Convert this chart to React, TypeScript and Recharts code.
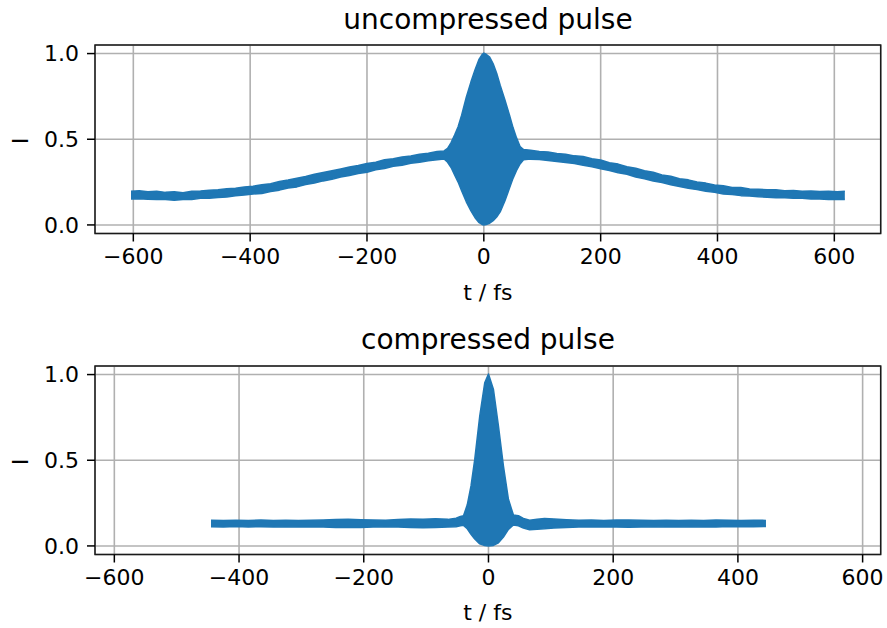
import {
  Area,
  CartesianGrid,
  ComposedChart,
  ReferenceArea,
  XAxis,
  YAxis,
} from 'recharts'

// uncompressed pulse: delay (fs) with upper / lower envelope of the fringes
const T1 = [
  -604, -590, -575, -560, -545, -530, -515, -500, -485, -470, -455, -440, -425, -410, -395, -380,
  -365, -350, -335, -320, -305, -290, -275, -260, -245, -230, -215, -200, -185, -170, -155, -140,
  -125, -110, -95, -80, -68, -62, -56, -50, -44, -38, -30, -22, -15, -8, -3, 0, 4, 10, 16, 22, 28,
  36, 44, 50, 56, 62, 68, 80, 95, 110, 125, 140, 155, 170, 185, 200, 215, 230, 245, 260, 275, 290,
  305, 320, 335, 350, 365, 380, 395, 410, 425, 440, 455, 470, 485, 500, 515, 530, 545, 560, 575,
  590, 605, 618,
]
const HI1 = [
  0.197, 0.2, 0.193, 0.196, 0.19, 0.193, 0.188, 0.196, 0.198, 0.203, 0.205, 0.211, 0.214, 0.222,
  0.226, 0.234, 0.241, 0.254, 0.262, 0.273, 0.283, 0.296, 0.306, 0.316, 0.327, 0.338, 0.347, 0.359,
  0.366, 0.38, 0.386, 0.396, 0.402, 0.413, 0.418, 0.428, 0.432, 0.447, 0.48, 0.525, 0.573, 0.64,
  0.745, 0.835, 0.905, 0.968, 0.994, 1.003, 0.996, 0.98, 0.94, 0.885, 0.815, 0.73, 0.64, 0.568,
  0.508, 0.458, 0.44, 0.436, 0.428, 0.425, 0.417, 0.413, 0.403, 0.399, 0.386, 0.379, 0.363, 0.355,
  0.34, 0.331, 0.316, 0.307, 0.292, 0.284, 0.27, 0.263, 0.25, 0.244, 0.233, 0.229, 0.219, 0.218,
  0.21, 0.208, 0.205, 0.205, 0.2, 0.201, 0.197, 0.198, 0.195, 0.196, 0.193, 0.196,
]
const LO1 = [
  0.152, 0.153, 0.15, 0.149, 0.149, 0.144, 0.148, 0.148, 0.155, 0.156, 0.16, 0.163, 0.17, 0.174,
  0.18, 0.184, 0.195, 0.203, 0.216, 0.222, 0.236, 0.245, 0.257, 0.266, 0.28, 0.288, 0.3, 0.308,
  0.322, 0.329, 0.342, 0.348, 0.36, 0.366, 0.374, 0.38, 0.385, 0.366, 0.335, 0.292, 0.25, 0.2,
  0.135, 0.082, 0.042, 0.013, 0.003, 0, 0.002, 0.01, 0.025, 0.046, 0.076, 0.14, 0.215, 0.272,
  0.318, 0.356, 0.38, 0.384, 0.382, 0.376, 0.37, 0.364, 0.358, 0.348, 0.34, 0.328, 0.318, 0.304,
  0.296, 0.28, 0.27, 0.256, 0.247, 0.235, 0.224, 0.214, 0.206, 0.196, 0.19, 0.181, 0.177, 0.171,
  0.169, 0.164, 0.162, 0.159, 0.158, 0.155, 0.155, 0.152, 0.152, 0.149, 0.15, 0.149,
]

// compressed pulse
const T2 = [
  -445, -425, -405, -385, -365, -345, -325, -305, -285, -265, -245, -225, -205, -185, -165, -145,
  -125, -105, -85, -65, -52, -45, -40, -34, -28, -22, -14, -6, 0, 8, 16, 24, 32, 40, 48, 56, 66,
  78, 90, 105, 125, 145, 165, 185, 205, 225, 245, 265, 285, 305, 325, 345, 365, 385, 405, 425, 445,
]
const HI2 = [
  0.15, 0.148, 0.15, 0.149, 0.151, 0.148, 0.15, 0.149, 0.15, 0.152, 0.154, 0.155, 0.153, 0.151,
  0.15, 0.154, 0.157, 0.156, 0.158, 0.155, 0.162, 0.172, 0.176, 0.24, 0.35, 0.505, 0.757, 0.952,
  1.003, 0.913, 0.7, 0.466, 0.272, 0.18, 0.176, 0.16, 0.15, 0.155, 0.16, 0.157, 0.153, 0.15, 0.152,
  0.149, 0.151, 0.152, 0.15, 0.149, 0.15, 0.148, 0.15, 0.149, 0.151, 0.15, 0.149, 0.15, 0.149,
]
const LO2 = [
  0.112, 0.11, 0.113, 0.111, 0.112, 0.11, 0.112, 0.11, 0.111, 0.11, 0.108, 0.109, 0.107, 0.11,
  0.112, 0.11, 0.108, 0.106, 0.108, 0.11, 0.112, 0.118, 0.12, 0.1, 0.068, 0.04, 0.012, 0.002, 0,
  0.003, 0.018, 0.052, 0.097, 0.122, 0.118, 0.104, 0.095, 0.098, 0.1, 0.104, 0.108, 0.11, 0.111,
  0.11, 0.11, 0.109, 0.111, 0.112, 0.11, 0.111, 0.112, 0.11, 0.111, 0.113, 0.112, 0.112, 0.113,
]

const X_TICKS = [-600, -400, -200, 0, 200, 400, 600]
const Y_TICKS = [0, 0.5, 1]

const BLUE = '#1f77b4'
const FONT = 'DejaVu Sans'
const Y_DOMAIN: [number, number] = [-0.05, 1.05]

const fmtX = (v: number) => (v < 0 ? `\u2212${-v}` : `${v}`)
const fmtY = (v: number) => v.toFixed(1)

function toRows(t: number[], hi: number[], lo: number[]) {
  return t.map((x, i) => ({ t: x, band: [lo[i], hi[i]] }))
}

interface PanelProps {
  rows: { t: number; band: number[] }[]
  xDomain: [number, number]
  height: number
  top: number
  labelOffset: number
}

function Panel({ rows, xDomain, height, top, labelOffset }: PanelProps) {
  const tick = { fontSize: 22, fontFamily: FONT, fill: '#000' }
  return (
    <ComposedChart
      width={887}
      height={height}
      data={rows}
      margin={{ top, right: 6.3, left: 0, bottom: 0 }}
    >
      <CartesianGrid stroke="#b0b0b0" strokeWidth={1.6} />
      <XAxis
        type="number"
        dataKey="t"
        domain={xDomain}
        allowDataOverflow
        ticks={X_TICKS}
        interval={0}
        tickFormatter={fmtX}
        tick={tick}
        tickSize={8}
        tickMargin={7}
        tickLine={{ stroke: '#000', strokeWidth: 1.5 }}
        axisLine={false}
        height={height - top - 188.5}
        label={{
          value: 't / fs',
          position: 'insideBottom',
          offset: labelOffset,
          fontSize: 22,
          fontFamily: FONT,
          fill: '#000',
        }}
      />
      <YAxis
        type="number"
        domain={Y_DOMAIN}
        allowDataOverflow
        ticks={Y_TICKS}
        interval={0}
        tickFormatter={fmtY}
        tick={tick}
        tickSize={8}
        tickMargin={8}
        tickLine={{ stroke: '#000', strokeWidth: 1.5 }}
        axisLine={false}
        width={95}
        label={{
          value: '\u2014',
          angle: 0,
          position: 'insideLeft',
          offset: 11,
          dy: 0,
          fontSize: 18,
          fontWeight: 'bold',
          fontFamily: FONT,
          fill: '#000',
        }}
      />
      <Area
        type="linear"
        dataKey="band"
        stroke={BLUE}
        strokeWidth={1.5}
        strokeLinejoin="round"
        fill={BLUE}
        fillOpacity={1}
        dot={false}
        activeDot={false}
        isAnimationActive={false}
      />
      <ReferenceArea
        x1={xDomain[0]}
        x2={xDomain[1]}
        y1={Y_DOMAIN[0]}
        y2={Y_DOMAIN[1]}
        fill="none"
        stroke="#1a1a1a"
        strokeWidth={1.5}
      />
    </ComposedChart>
  )
}

export default function App() {
  const top = toRows(T1, HI1, LO1)
  const bottom = toRows(T2, HI2, LO2)
  return (
    <div style={{ position: 'absolute', left: 0, top: 0, width: 887, height: 628, background: '#fff' }}>
      <div style={{ position: 'absolute', left: 0, top: 0 }}>
        <Panel rows={top} xDomain={[-665.6, 679.4]} height={310} top={45} labelOffset={10} />
      </div>
      <div style={{ position: 'absolute', left: 0, top: 320 }}>
        <Panel rows={bottom} xDomain={[-631, 629]} height={308} top={46} labelOffset={8} />
      </div>
      <svg
        width={887}
        height={628}
        style={{ position: 'absolute', left: 0, top: 0, pointerEvents: 'none' }}
      >
        <text x={488} y={28.5} textAnchor="middle" fontSize={28} fontFamily={FONT} fill="#000">
          uncompressed pulse
        </text>
        <text x={488} y={349} textAnchor="middle" fontSize={28} fontFamily={FONT} fill="#000">
          compressed pulse
        </text>
      </svg>
    </div>
  )
}
